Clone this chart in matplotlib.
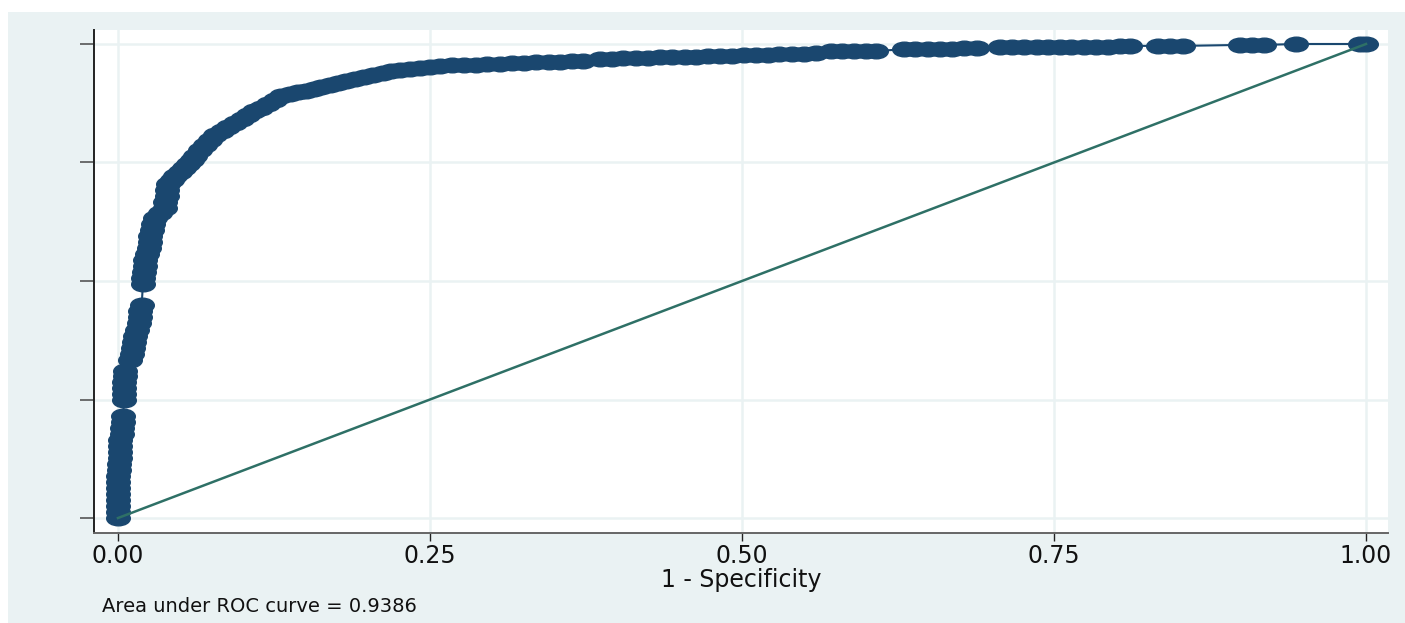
#!/usr/bin/env python3
"""ROC curve (Stata style): sensitivity vs 1 - specificity with AUC note."""
import numpy as np
import matplotlib as mpl
mpl.use("Agg")
import matplotlib.pyplot as plt
from matplotlib.path import Path

# ROC points (1 - specificity, sensitivity)
fpr = [
    0.000, 0.000, 0.000, 0.000, 0.000, 0.000, 0.000, 0.000, 0.001, 0.001,
    0.002, 0.002, 0.002, 0.002, 0.003, 0.003, 0.004, 0.004, 0.005, 0.005,
    0.005, 0.005, 0.006, 0.006, 0.010, 0.011, 0.012, 0.013, 0.014, 0.015,
    0.017, 0.018, 0.018, 0.019, 0.020, 0.020, 0.021, 0.022, 0.022, 0.023,
    0.025, 0.026, 0.026, 0.027, 0.028, 0.030, 0.034, 0.038, 0.038, 0.039,
    0.039, 0.040, 0.043, 0.046, 0.050, 0.053, 0.056, 0.059, 0.062, 0.066,
    0.070, 0.074, 0.078, 0.083, 0.088, 0.094, 0.099, 0.104, 0.109, 0.115,
    0.120, 0.126, 0.131, 0.138, 0.144, 0.151, 0.157, 0.163, 0.170, 0.176,
    0.183, 0.190, 0.197, 0.204, 0.212, 0.219, 0.226, 0.234, 0.242, 0.250,
    0.258, 0.268, 0.277, 0.287, 0.296, 0.306, 0.316, 0.325, 0.335, 0.345,
    0.354, 0.364, 0.373, 0.386, 0.396, 0.405, 0.415, 0.425, 0.434, 0.444,
    0.454, 0.463, 0.473, 0.482, 0.492, 0.502, 0.511, 0.521, 0.530, 0.540,
    0.550, 0.559, 0.571, 0.580, 0.590, 0.599, 0.607, 0.630, 0.639, 0.649,
    0.659, 0.668, 0.678, 0.688, 0.707, 0.716, 0.726, 0.736, 0.745, 0.755,
    0.764, 0.774, 0.784, 0.793, 0.803, 0.811, 0.833, 0.843, 0.853, 0.899,
    0.909, 0.918, 0.944, 0.995, 1.000,
]
tpr = [
    0.000, 0.013, 0.025, 0.038, 0.051, 0.063, 0.076, 0.089, 0.101, 0.114,
    0.127, 0.139, 0.152, 0.165, 0.177, 0.190, 0.203, 0.215, 0.249, 0.262,
    0.274, 0.287, 0.300, 0.310, 0.333, 0.346, 0.359, 0.371, 0.384, 0.397,
    0.411, 0.424, 0.437, 0.449, 0.494, 0.506, 0.519, 0.532, 0.544, 0.557,
    0.570, 0.582, 0.595, 0.608, 0.620, 0.633, 0.643, 0.654, 0.667, 0.679,
    0.692, 0.705, 0.713, 0.722, 0.730, 0.738, 0.747, 0.755, 0.764, 0.776,
    0.787, 0.797, 0.808, 0.816, 0.825, 0.833, 0.842, 0.850, 0.859, 0.865,
    0.873, 0.882, 0.890, 0.895, 0.899, 0.901, 0.905, 0.909, 0.914, 0.918,
    0.922, 0.926, 0.930, 0.935, 0.939, 0.943, 0.945, 0.947, 0.949, 0.951,
    0.954, 0.956, 0.956, 0.956, 0.958, 0.958, 0.960, 0.960, 0.962, 0.962,
    0.962, 0.964, 0.964, 0.968, 0.968, 0.970, 0.970, 0.970, 0.973, 0.973,
    0.973, 0.973, 0.975, 0.975, 0.975, 0.977, 0.977, 0.977, 0.979, 0.979,
    0.979, 0.981, 0.985, 0.985, 0.985, 0.985, 0.985, 0.989, 0.989, 0.989,
    0.989, 0.989, 0.992, 0.992, 0.994, 0.994, 0.994, 0.994, 0.994, 0.994,
    0.994, 0.994, 0.994, 0.994, 0.996, 0.996, 0.996, 0.996, 0.996, 0.998,
    0.998, 0.998, 1.000, 1.000, 1.000,
]
auc = 0.9386
xticks = [0.0, 0.25, 0.5, 0.75, 1.0]
xtick_labels = ["0.00", "0.25", "0.50", "0.75", "1.00"]
yticks = [0.0, 0.25, 0.5, 0.75, 1.0]

NAVY = "#1A476F"
GREEN = "#2E7066"
BG = "#EAF2F3"

plt.rcParams["font.family"] = ["DejaVu Sans"]

fig = plt.figure(figsize=(14.05, 6.23), dpi=100)
fig.patch.set_facecolor("white")

# Stata graph region (light band behind the plot region)
bg = fig.add_axes([8 / 1405, 0, 1 - 8 / 1405, 1 - 12 / 623], zorder=-5)
bg.set_facecolor(BG)
bg.set_xticks([])
bg.set_yticks([])
for s in bg.spines.values():
    s.set_visible(False)

ax = fig.add_axes([94 / 1405, 1 - 533 / 623, (1388 - 94) / 1405, (533 - 30) / 623])
ax.set_facecolor("white")

# flattened circle marker (the source image is horizontally stretched)
circ = Path.unit_circle()
ellipse = Path(circ.vertices * np.array([1.0, 0.62]), circ.codes)

ax.plot(fpr, tpr, color=NAVY, linewidth=1.5, marker=ellipse, markersize=17,
        markerfacecolor=NAVY, markeredgecolor=NAVY, zorder=3, clip_on=False)
ax.plot([0, 1], [0, 1], color=GREEN, linewidth=1.8, zorder=4)

ax.set_xlim(-0.0192, 1.0176)
ax.set_ylim(-0.0316, 1.0295)
ax.set_xticks(xticks)
ax.set_xticklabels(xtick_labels)
ax.set_yticks(yticks)
ax.set_yticklabels([])

ax.grid(True, color=BG, linewidth=1.8, zorder=0)
ax.set_axisbelow(True)

for s in ("top", "right"):
    ax.spines[s].set_visible(False)
ax.spines["left"].set_color("#222222")
ax.spines["left"].set_linewidth(1.4)
ax.spines["bottom"].set_color("#666666")
ax.spines["bottom"].set_linewidth(1.4)

ax.tick_params(axis="y", direction="out", length=10, width=1.2, color="#555555")
ax.tick_params(axis="x", direction="out", length=6, width=1.0, color="#222222",
               labelsize=17, pad=2, labelcolor="#111111")

ax.set_xlabel("1 - Specificity", fontsize=17, color="#111111", labelpad=0)

fig.text(102 / 1405, 1 - 607 / 623, f"Area under ROC curve = {auc:.4f}",
         fontsize=14, color="#111111", ha="left", va="center")

fig.savefig("out.png", dpi=100)
